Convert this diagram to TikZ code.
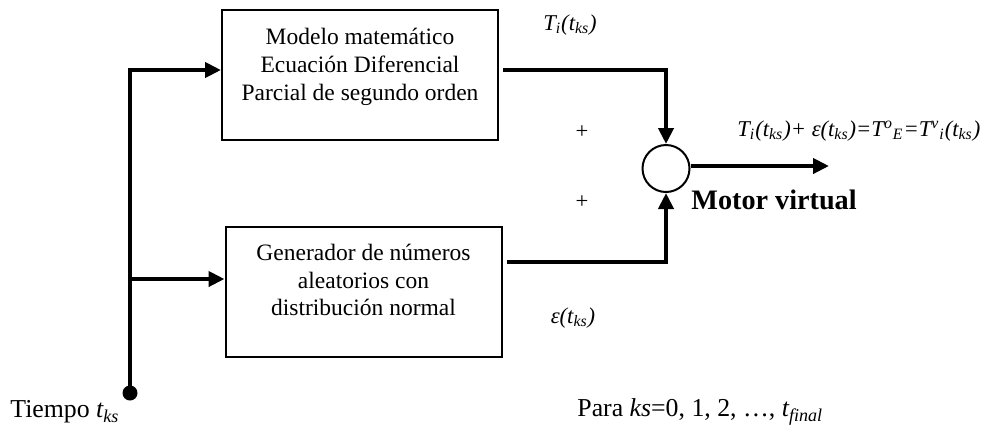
\documentclass[tikz,border=0pt]{standalone}
\usepackage{fontspec}
\setmainfont{Liberation Serif}
\usetikzlibrary{arrows.meta}
\begin{document}
\begin{tikzpicture}[x=0.5pt,y=-0.5pt,
  every node/.style={font=\fontsize{11.3}{13.6}\selectfont, inner sep=0pt},
  boxtext/.style={font=\fontsize{11.75}{13.8}\selectfont},
  blk/.style={draw, line width=1pt, minimum width=138pt, minimum height=65pt, boxtext},
  conn/.style={line width=2pt, -{Triangle[length=8pt,width=7.5pt]}},
  lbl/.style={anchor=west},
  biglbl/.style={anchor=west, font=\fontsize{12.9}{15}\selectfont}]
\useasboundingbox (0,0) rectangle (1001,430);
% blocks
\node[blk] (top) at (360,75) {\parbox[c][65pt][t]{138pt}{\centering\vspace*{9.3pt}Modelo matemático\\Ecuación Diferencial\\Parcial de segundo orden}};
\node[blk] (bot) at (363.5,292) {\parbox[c][65pt][t]{138pt}{\centering\vspace*{8.7pt}Generador de números\\aleatorios con\\distribución normal}};
\node[draw, circle, line width=1pt, minimum size=23.5pt] (sum) at (666,168.5) {};
\node[circle, fill, minimum size=7.5pt] (dot) at (130,393) {};
\coordinate (tin) at ([yshift=2.5pt]top.west);
\coordinate (bin) at ([yshift=6.5pt]bot.west);
\coordinate (tout) at ([yshift=2.5pt]top.east);
\coordinate (bout) at ([yshift=15pt]bot.east);
\coordinate (out) at (829,166);
% connectors
\draw[conn] (dot.center) |- (tin);
\draw[conn] (dot.center |- bin) -- (bin);
\draw[conn] ([xshift=2pt]tout) -| (sum.north);
\draw[conn] ([xshift=2pt]bout) -| (sum.south);
\draw[conn] (sum.east |- out) -- (out);
% labels
\node (lti) at (570,25) {\textit{T\textsubscript{i}(t\textsubscript{ks})}};
\node (p1) at (582,132) {+};
\node (p2) at (582,202) {+};
\node (leps) at (573,318) {\textit{ε(t\textsubscript{ks})}};
\node[lbl] (leq) at (737,131) {\textit{T\textsubscript{i}(t\textsubscript{ks})+ ε(t\textsubscript{ks})=T\textsuperscript{o}\textsubscript{E}=T\textsuperscript{v}\textsubscript{i}(t\textsubscript{ks})}};
\node[lbl, font=\fontsize{14.1}{16}\selectfont\bfseries] (lmv) at (691,200) {Motor virtual};
\node[biglbl] (ltiempo) at (10,412) {Tiempo \textit{t\textsubscript{ks}}};
\node[biglbl] (lpara) at (577,412) {Para \textit{ks}=0, 1, 2, …, \textit{t\textsubscript{final}}};
\end{tikzpicture}
\end{document}
